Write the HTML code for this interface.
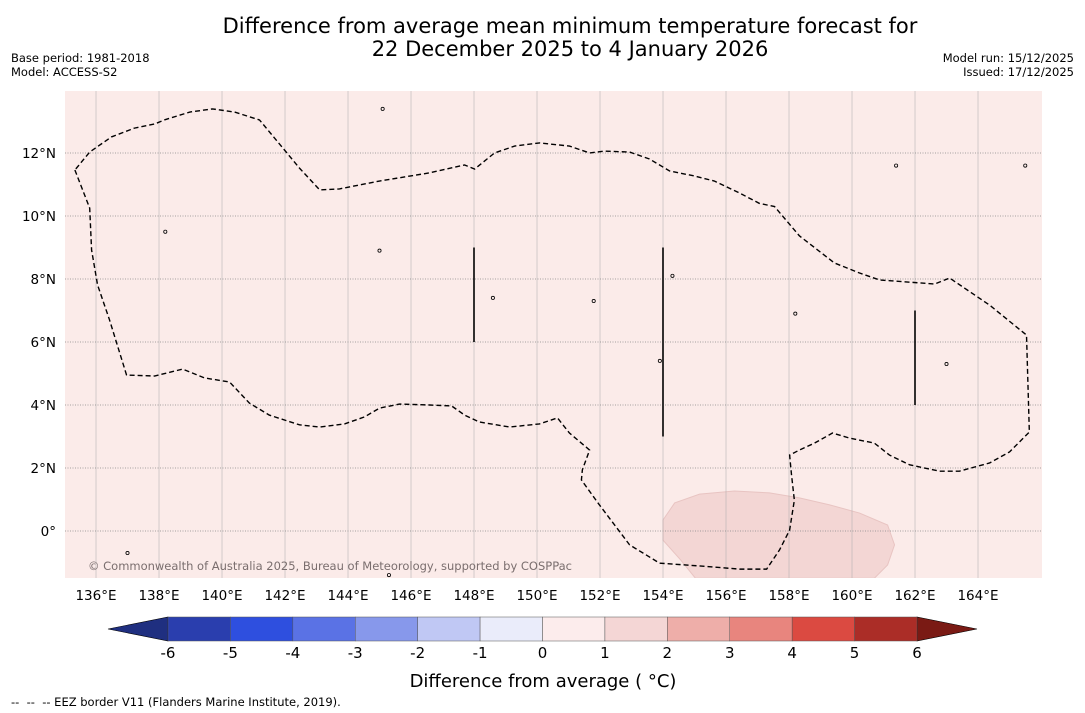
<!DOCTYPE html>
<html><head><meta charset="utf-8">
<style>
body{margin:0;background:#fff;font-family:"Liberation Sans","DejaVu Sans",sans-serif;}
#wrap{position:relative;width:1085px;height:713px;overflow:hidden;}
.t{position:absolute;white-space:nowrap;}
</style></head>
<body>
<div id="wrap">
<div class="t" style="left:0;width:1140px;text-align:center;top:15px;font-size:21px;line-height:23px;font-family:'DejaVu Sans',sans-serif;">Difference from average mean minimum temperature forecast for<br>22 December 2025 to 4 January 2026</div>
<div class="t" style="left:11px;top:51px;font-size:11.5px;line-height:14px;font-family:'DejaVu Sans',sans-serif;">Base period: 1981-2018<br>Model: ACCESS-S2</div>
<div class="t" style="right:11px;top:51px;font-size:11.5px;line-height:14px;text-align:right;font-family:'DejaVu Sans',sans-serif;">Model run: 15/12/2025<br>Issued: 17/12/2025</div>
<svg id="svg" width="1085" height="713" style="position:absolute;left:0;top:0"></svg>
<div class="t" style="left:11px;top:695px;font-size:11.5px;font-family:'DejaVu Sans',sans-serif;">-- &nbsp;-- &nbsp;-- EEZ border V11 (Flanders Marine Institute, 2019).</div>
</div>
<script>
const lonTicks=[136,138,140,142,144,146,148,150,152,154,156,158,160,162,164];
const latTicks=[0,2,4,6,8,10,12];
const cbTicks=[-6,-5,-4,-3,-2,-1,0,1,2,3,4,5,6];
const cbColors=["#2a3eae","#2e4fdf","#5a72e5","#8798eb","#c0c8f4","#eaecfa","#fcecec","#f4d6d5","#eeaea9","#e8857e","#db4a41","#ab2d27"];
const eezLon=[135.33,135.8,135.86,136.05,136.43,136.97,137.86,138.75,139.44,140.24,140.87,141.5,142.46,143.1,143.89,144.52,145.0,145.63,146.59,147.29,147.7,148.17,149.13,150.08,150.65,151.03,151.67,151.44,151.41,151.98,152.94,153.89,155.16,156.43,157.29,157.7,158.02,158.17,158.08,158.02,158.33,158.81,159.38,159.92,160.71,161.19,161.83,162.78,163.41,164.37,165.0,165.63,165.54,164.37,163.1,162.62,161.83,160.87,160.24,159.44,158.33,157.54,157.06,156.43,155.63,155.0,154.21,153.57,152.94,152.14,151.67,151.03,150.08,149.29,148.65,148.02,147.7,146.59,145.0,143.73,143.1,142.46,141.83,141.19,140.4,139.7,138.98,138.17,137.86,137.22,136.49,135.8,135.33];
const eezLat=[11.46,10.25,8.92,7.81,6.7,4.95,4.92,5.14,4.86,4.73,4.06,3.68,3.37,3.3,3.4,3.62,3.9,4.03,4.0,3.97,3.68,3.46,3.3,3.4,3.59,3.11,2.57,1.94,1.62,0.83,-0.44,-1.02,-1.11,-1.21,-1.21,-0.6,0.03,0.98,1.78,2.41,2.57,2.79,3.11,2.95,2.79,2.41,2.1,1.9,1.9,2.16,2.51,3.14,6.22,7.17,8.03,7.84,7.9,7.97,8.19,8.51,9.37,10.3,10.4,10.73,11.11,11.27,11.43,11.81,12.03,12.06,12.0,12.22,12.32,12.22,12.0,11.49,11.62,11.37,11.11,10.86,10.83,11.52,12.28,13.05,13.3,13.4,13.3,13.05,12.92,12.79,12.51,12.03,11.46];
const patchLon=[154.0,154.37,155.16,156.27,157.38,158.33,159.29,160.24,161.13,161.35,161.13,160.71,155.03,154.56,154.0];
const patchLat=[0.35,0.89,1.17,1.27,1.21,1.05,0.83,0.57,0.19,-0.44,-1.08,-1.5,-1.5,-0.92,-0.29];
const segLon=[148,154,162];const segLat0=[9,9,7];const segLat1=[6,3,4];
const X=lon=>64.5+(lon-135)*31.5, Y=lat=>531-lat*31.5;
const svg=document.getElementById('svg');const NS="http://www.w3.org/2000/svg";
function mk(t,a,p){const e=document.createElementNS(NS,t);for(const k in a)e.setAttribute(k,a[k]);(p||svg).appendChild(e);return e;}
const cp=mk('clipPath',{id:'mc'});mk('rect',{x:65,y:91,width:977,height:487},cp);
const g=mk('g',{'clip-path':'url(#mc)'});

const bg=mk('rect',{x:65,y:91,width:977,height:487,fill:'#fbebe9'},g);

const pp=mk('polygon',{points:patchLon.map((l,i)=>X(l)+','+Y(patchLat[i])).join(' '),fill:'#f3d6d4',stroke:'#e8c4c2','stroke-width':1},g);

lonTicks.forEach(l=>{const e=mk('line',{x1:X(l),x2:X(l),y1:91,y2:578,stroke:'#aaa','stroke-width':0.5},g);

const t=mk('text',{x:X(l),y:600,'font-size':13.5,'text-anchor':'middle','font-family':'DejaVu Sans,sans-serif'});t.textContent=l+'°E';
});
latTicks.forEach(l=>{const e=mk('line',{x1:65,x2:1042,y1:Y(l),y2:Y(l),stroke:'#888','stroke-width':0.7,'stroke-dasharray':'1,1.5'},g);

const t=mk('text',{x:56,y:Y(l)+5,'font-size':13.5,'text-anchor':'end','font-family':'DejaVu Sans,sans-serif'});t.textContent=l==0?'0°':l+'°N';
});
const ez=mk('polyline',{points:eezLon.map((l,i)=>X(l)+','+Y(eezLat[i])).join(' '),fill:'none',stroke:'#000','stroke-width':1.4,'stroke-dasharray':'5,3'},g);

segLon.forEach((l,i)=>{const e=mk('line',{x1:X(l),x2:X(l),y1:Y(segLat0[i]),y2:Y(segLat1[i]),stroke:'#000','stroke-width':1.6},g);
});
const isl=[[145.0,8.9],[138.2,9.5],[151.8,7.3],[148.6,7.4],[158.2,6.9],[163.0,5.3],[137.0,-0.7],[145.3,-1.4],[161.4,11.6],[165.5,11.6],[145.1,13.4],[153.9,5.4],[154.3,8.1]];
isl.forEach(p=>{const e=mk('circle',{cx:X(p[0]),cy:Y(p[1]),r:1.6,fill:'none',stroke:'#000','stroke-width':0.8},g);
});
const ct=mk('text',{x:88,y:570,'font-size':11.5,fill:'#7a6e6e','font-family':'DejaVu Sans,sans-serif',textLength:484});
ct.textContent='© Commonwealth of Australia 2025, Bureau of Meteorology, supported by COSPPac';

const c0=168,c1=917,cy0=617,cy1=641,w=(c1-c0)/12;
const lt=mk('polygon',{points:`108,629 ${c0},${cy0} ${c0},${cy1}`,fill:'#1f2f80',stroke:'#000','stroke-width':0.6});

const rt=mk('polygon',{points:`977,629 ${c1},${cy0} ${c1},${cy1}`,fill:'#7a1a14',stroke:'#000','stroke-width':0.6});

cbColors.forEach((c,i)=>{const e=mk('rect',{x:c0+i*w,y:cy0,width:w,height:cy1-cy0,fill:c,stroke:'#555','stroke-width':0.5});
});
cbTicks.forEach((v,i)=>{const t=mk('text',{x:c0+i*w,y:658,'font-size':15,'text-anchor':'middle','font-family':'DejaVu Sans,sans-serif'});t.textContent=v;
});
const cl=mk('text',{x:543,y:687,'font-size':18,'text-anchor':'middle','font-family':'DejaVu Sans,sans-serif'});
cl.textContent='Difference from average ( °C)';

</script>
</body></html>
